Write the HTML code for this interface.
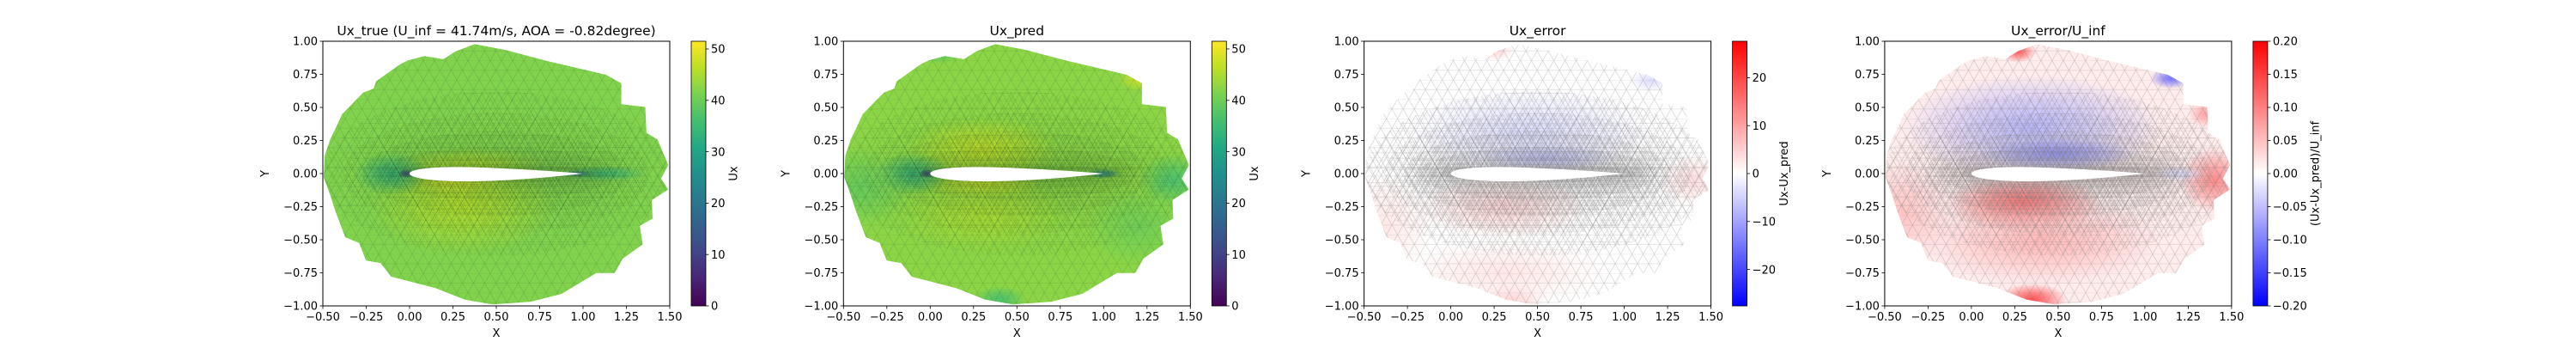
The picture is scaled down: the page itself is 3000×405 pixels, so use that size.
<!DOCTYPE html>
<html><head><meta charset="utf-8"><style>
html,body{margin:0;padding:0;background:#fff;}
svg text{font-family:"DejaVu Sans","Liberation Sans",sans-serif;fill:#000;}
</style></head><body>
<svg id="fig" xmlns="http://www.w3.org/2000/svg" width="3000" height="400" viewBox="0 0 3000 400">
<rect width="3000" height="400" fill="#fff"/>
<defs id="defs"></defs>
</svg>
<script>
// ---- data (domain coordinates) ----
const boundaryX = [0.375,0.549,0.779,1.132,1.221,1.221,1.359,1.366,1.429,1.491,1.450,1.491,1.397,1.401,1.327,1.344,1.229,1.182,1.076,0.876,0.699,0.478,0.319,0.151,-0.106,-0.168,-0.251,-0.291,-0.371,-0.427,-0.459,-0.495,-0.489,-0.459,-0.427,-0.389,-0.268,-0.206,-0.194,-0.053,-0.008,0.084,0.195,0.266];
const boundaryY = [0.978,0.935,0.855,0.747,0.682,0.524,0.503,0.308,0.258,0.064,-0.038,-0.120,-0.200,-0.341,-0.395,-0.535,-0.643,-0.751,-0.751,-0.909,-0.968,-0.989,-0.953,-0.866,-0.779,-0.676,-0.658,-0.524,-0.481,-0.286,-0.157,-0.027,0.135,0.254,0.341,0.449,0.611,0.643,0.697,0.827,0.855,0.888,0.864,0.924];
const xTicks = [-0.5,-0.25,0,0.25,0.5,0.75,1,1.25,1.5];
const yTicks = [-1,-0.75,-0.5,-0.25,0,0.25,0.5,0.75,1];
const titles = ["Ux_true (U_inf = 41.74m/s, AOA = -0.82degree)","Ux_pred","Ux_error","Ux_error/U_inf"];
const cbLabels = ["Ux","Ux","Ux-Ux_pred","(Ux-Ux_pred)/U_inf"];
const cbMin = [0,0,-27.6,-0.2];
const cbMax = [51.5,51.5,27.6,0.2];
const cbTicks1 = [0,10,20,30,40,50];
const cbTicks3 = [-20,-10,0,10,20];
const cbTicks4 = [-0.2,-0.15,-0.1,-0.05,0,0.05,0.1,0.15,0.2];
const baseValues = [41.7,42.5,0,0.015];
// field features: centre x, centre y, radius x, radius y, value
const blobs1X=[0.3,0.25,0.35,-0.1,-0.02,1.12,0.97];
const blobs1Y=[-0.22,-0.06,0.08,0,0,0,0];
const blobs1RX=[0.55,0.3,0.45,0.22,0.045,0.25,0.08];
const blobs1RY=[0.4,0.1,0.12,0.16,0.035,0.06,0.025];
const blobs1V=[46,48,45,33,8,34,18];
const blobs2X=[0.3,0.3,0.3,-0.1,-0.02,1,1.4,0.05,0.4,1.2,-0.4,1.2];
const blobs2Y=[0.18,-0.08,-0.3,0,0,0,-0.05,0.93,-0.95,0.72,-0.1,-0.4];
const blobs2RX=[0.45,0.35,0.5,0.22,0.045,0.1,0.2,0.15,0.15,0.12,0.3,0.3];
const blobs2RY=[0.25,0.1,0.3,0.16,0.035,0.04,0.2,0.1,0.1,0.1,0.3,0.3];
const blobs2V=[47,48,45,33,8,24,36,36,36,48,39,40];
const blobs3X=[0.45,0.55,0.3,0.35,0.25,-0.4,1.4,1.15,0.3];
const blobs3Y=[0.3,0.12,-0.25,-0.95,0.93,-0.4,-0.05,0.7,-0.75];
const blobs3RX=[0.7,0.4,0.5,0.2,0.12,0.3,0.2,0.12,0.6];
const blobs3RY=[0.35,0.1,0.25,0.12,0.08,0.4,0.2,0.08,0.25];
const blobs3V=[-4,-7,5,5,5,3,4,-4,3];
const blobs4X=[0.35,0.5,0.3,0.4,0.35,0.27,1.4,1.15,-0.4,1.2,1.35];
const blobs4Y=[0.35,0.15,-0.22,-0.5,-0.95,0.92,-0.05,0.72,-0.3,0,0.45];
const blobs4RX=[0.75,0.45,0.45,0.7,0.2,0.1,0.2,0.12,0.3,0.15,0.1];
const blobs4RY=[0.4,0.12,0.22,0.35,0.12,0.08,0.25,0.08,0.4,0.06,0.1];
const blobs4V=[-0.06,-0.09,0.13,0.06,0.15,0.14,0.1,-0.12,0.05,-0.03,0.08];

// ---- layout ----
const NS="http://www.w3.org/2000/svg";
const svg=document.getElementById('fig');
const defs=document.getElementById('defs');
const AX_W=404, AX_H=308, AX_T=48;
function axLeft(i){return 376+606.3*i;}
function mk(tag,attrs,parent){const e=document.createElementNS(NS,tag);for(const k in attrs)e.setAttribute(k,attrs[k]);(parent||svg).appendChild(e);return e;}

const VIR=["#440154","#482475","#414487","#355f8d","#2a788e","#21918c","#22a884","#44bf70","#7ad151","#bddf26","#fde725"];
function hex(h){return [parseInt(h.slice(1,3),16),parseInt(h.slice(3,5),16),parseInt(h.slice(5,7),16)];}
function viridis(t){t=Math.max(0,Math.min(1,t));const f=t*10,i=Math.min(9,Math.floor(f)),r=f-i;const a=hex(VIR[i]),b=hex(VIR[i+1]);return 'rgb('+a.map((v,k)=>Math.round(v+(b[k]-v)*r)).join(',')+')';}
function bwr(t){t=Math.max(0,Math.min(1,t));let r,g,b;if(t<0.5){const u=t/0.5;r=g=Math.round(255*u);b=255;}else{const u=(t-0.5)/0.5;r=255;g=b=Math.round(255*(1-u));}return 'rgb('+r+','+g+','+b+')';}
function cmap(p,v){const t=(v-cbMin[p])/(cbMax[p]-cbMin[p]);return p<2?viridis(t):bwr(t);}
function fmt(v,d){const s=Math.abs(v).toFixed(d);return (v<-1e-9?'\u2212':'')+s;}

function airfoilPts(){const up=[],lo=[];const N=60;for(let k=0;k<=N;k++){const b=Math.PI*k/N;const x=(1-Math.cos(b))/2;const yt=5*0.108*(0.2969*Math.sqrt(x)-0.126*x-0.3516*x*x+0.2843*x*x*x-0.1036*x*x*x*x);const yc=-0.006*Math.sin(Math.PI*x);up.push([x,yc+yt]);lo.push([x,yc-yt]);}return up.concat(lo.reverse());}
const foil=airfoilPts();

const allBlobs=[[blobs1X,blobs1Y,blobs1RX,blobs1RY,blobs1V],[blobs2X,blobs2Y,blobs2RX,blobs2RY,blobs2V],[blobs3X,blobs3Y,blobs3RX,blobs3RY,blobs3V],[blobs4X,blobs4Y,blobs4RX,blobs4RY,blobs4V]];
const allCbTicks=[cbTicks1,cbTicks1,cbTicks3,cbTicks4];
const cbDec=[0,0,0,2];
const meshStroke=['#1a3a1a','#1a3a1a','#777','#777'];
const meshOp=[0.2,0.2,0.38,0.38];
const spacings=[13,10,7.5,5.5,4,2.8,1.8];
const ringRX=[0,1.0,0.88,0.77,0.69,0.62,0.57];
const ringRY=[0,0.62,0.46,0.32,0.2,0.12,0.07];

for(let p=0;p<4;p++){
  const L=axLeft(p);
  const sx=v=>L+(v+0.5)/2*AX_W;
  const sy=v=>AX_T+(1-v)/2*AX_H;
  const sxr=v=>v/2*AX_W, syr=v=>v/2*AX_H;
  const g=mk('g',{});
  
  
  const cp=mk('clipPath',{id:'clip'+p},defs);
  mk('polygon',{points:boundaryX.map((x,k)=>sx(x).toFixed(1)+','+sy(boundaryY[k]).toFixed(1)).join(' ')},cp);
  spacings.forEach((s,j)=>{
    const h=s*0.866;
    const pat=mk('pattern',{id:'pat'+p+'_'+j,patternUnits:'userSpaceOnUse',width:s,height:2*h,x:L,y:AX_T},defs);
    mk('path',{d:`M0 0H${s}M0 ${h}H${s}M0 0L${s} ${2*h}M${s} 0L0 ${2*h}`,stroke:meshStroke[p],'stroke-width':j<5?0.6:0.45,'stroke-opacity':meshOp[p]*(j>=5?0.8:1),fill:'none'},pat);
    if(j>0){
      const c=mk('clipPath',{id:`ring${p}_${j}`},defs);
      mk('ellipse',{cx:sx(0.5),cy:sy(0),rx:sxr(ringRX[j]),ry:syr(ringRY[j])},c);
    }
  });
  const field=mk('g',{'clip-path':`url(#clip${p})`},g);
  
  
  mk('rect',{x:L,y:AX_T,width:AX_W,height:AX_H,fill:cmap(p,baseValues[p])},field);
  const B=allBlobs[p];
  for(let k=0;k<B[0].length;k++){
    const col=cmap(p,B[4][k]);
    const rg=mk('radialGradient',{id:`bl${p}_${k}`},defs);
    mk('stop',{offset:'0','stop-color':col,'stop-opacity':0.9},rg);
    mk('stop',{offset:'0.45','stop-color':col,'stop-opacity':0.55},rg);
    mk('stop',{offset:'1','stop-color':col,'stop-opacity':0},rg);
    const e=mk('ellipse',{cx:sx(B[0][k]),cy:sy(B[1][k]),rx:sxr(B[2][k]),ry:syr(B[3][k]),fill:`url(#bl${p}_${k})`},field);
    
    
  }
  const mesh=mk('g',{},field);
  
  
  mk('rect',{x:L,y:AX_T,width:AX_W,height:AX_H,fill:`url(#pat${p}_0)`},mesh);
  for(let j=1;j<spacings.length;j++){
    const rg=mk('g',{'clip-path':`url(#ring${p}_${j})`},mesh);
    mk('rect',{x:L,y:AX_T,width:AX_W,height:AX_H,fill:`url(#pat${p}_${j})`},rg);
  }
  const af=mk('polygon',{points:foil.map(q=>sx(q[0]).toFixed(2)+','+sy(q[1]).toFixed(2)).join(' '),fill:'#fff'},g);
  
  
  const fr=mk('rect',{x:L,y:AX_T,width:AX_W,height:AX_H,fill:'none',stroke:'#000','stroke-width':1},g);
  
  
  xTicks.forEach(v=>{
    mk('line',{x1:sx(v),x2:sx(v),y1:AX_T+AX_H,y2:AX_T+AX_H+3.5,stroke:'#000','stroke-width':0.8},g);
    const t=mk('text',{x:sx(v),y:AX_T+AX_H+17,'text-anchor':'middle','font-size':13},g);t.textContent=fmt(v,2);
    
    
  });
  yTicks.forEach(v=>{
    mk('line',{x1:L-3.5,x2:L,y1:sy(v),y2:sy(v),stroke:'#000','stroke-width':0.8},g);
    const t=mk('text',{x:L-6,y:sy(v)+4.7,'text-anchor':'end','font-size':13},g);t.textContent=fmt(v,2);
    
    
  });
  const xl=mk('text',{x:L+AX_W/2,y:392,'text-anchor':'middle','font-size':13},g);xl.textContent='X';
  
  
  const yl=mk('text',{x:0,y:0,'text-anchor':'middle','font-size':13,transform:`translate(${L-63},${AX_T+AX_H/2}) rotate(-90)`},g);yl.textContent='Y';
  
  
  const tt=mk('text',{x:L+AX_W/2,y:AX_T-7,'text-anchor':'middle','font-size':15.5},g);tt.textContent=titles[p];
  
  
  const CX=L+AX_W+25, CW=17;
  const lg=mk('linearGradient',{id:'cbg'+p,x1:0,y1:1,x2:0,y2:0},defs);
  for(let k=0;k<=20;k++){const v=cbMin[p]+(cbMax[p]-cbMin[p])*k/20;mk('stop',{offset:k/20,'stop-color':cmap(p,v)},lg);}
  const cbg=mk('g',{},g);
  
  
  mk('rect',{x:CX,y:AX_T,width:CW,height:AX_H,fill:`url(#cbg${p})`,stroke:'#000','stroke-width':0.8},cbg);
  const cy=v=>AX_T+AX_H-(v-cbMin[p])/(cbMax[p]-cbMin[p])*AX_H;
  let maxW=0;
  allCbTicks[p].forEach(v=>{
    mk('line',{x1:CX+CW,x2:CX+CW+3.5,y1:cy(v),y2:cy(v),stroke:'#000','stroke-width':0.8},cbg);
    const t=mk('text',{x:CX+CW+6,y:cy(v)+4.7,'font-size':13},cbg);t.textContent=fmt(v,cbDec[p]);
    
    
    maxW=Math.max(maxW,t.getComputedTextLength?t.getComputedTextLength():30);
  });
  const cl=mk('text',{x:0,y:0,'text-anchor':'middle','font-size':13,transform:`translate(${CX+CW+6+maxW+14},${AX_T+AX_H/2}) rotate(-90)`},cbg);cl.textContent=cbLabels[p];
  
  
}
</script>
</body></html>
